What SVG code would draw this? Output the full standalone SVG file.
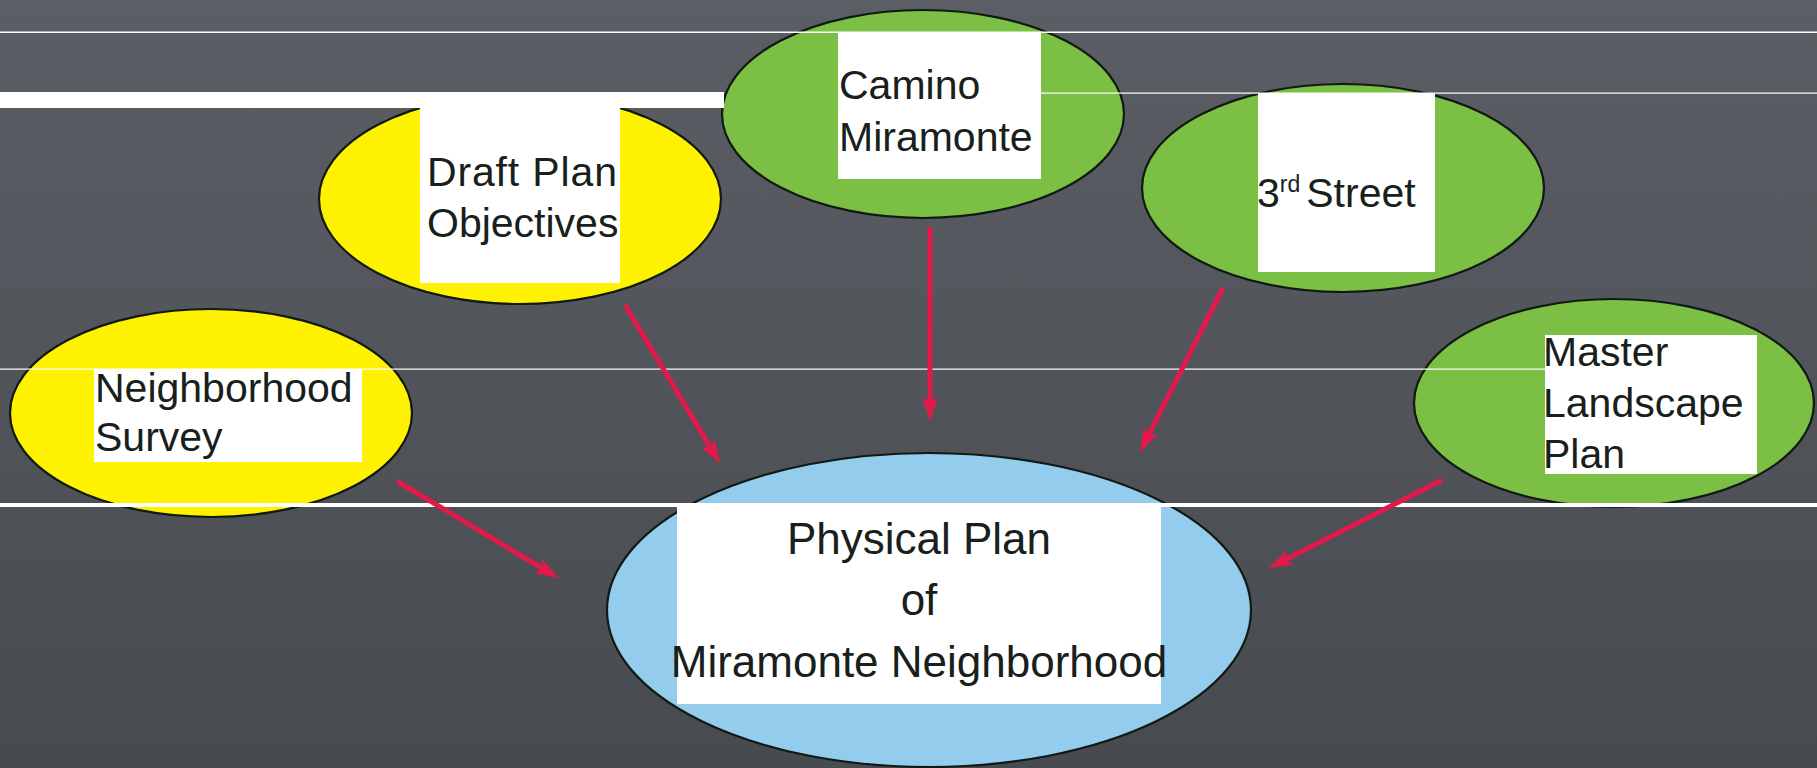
<svg xmlns="http://www.w3.org/2000/svg" width="1817" height="768" viewBox="0 0 1817 768">
  <defs>
    <linearGradient id="bg" x1="0" y1="0" x2="0" y2="1">
      <stop offset="0" stop-color="#5b5e64"/>
      <stop offset="1" stop-color="#474a4f"/>
    </linearGradient>
    <marker id="ah" markerUnits="userSpaceOnUse" markerWidth="26" markerHeight="20" refX="8" refY="9" orient="auto">
      <path d="M0,1 L24,9 L0,17 L5,9 Z" fill="#e3194b"/>
    </marker>
    <style>
      .node { stroke: #111a12; stroke-width: 2.2; }
      .yellow { fill: #fff200; }
      .green { fill: #7cbf45; }
      .blue { fill: #94ccee; }
      .box { fill: #ffffff; }
      .lbl { font-family: "Liberation Sans", Arial, sans-serif; font-size: 41px; fill: #18201b; }
      .big { font-size: 44px; }
      .conn { stroke: #e3194b; stroke-width: 5; fill: none; marker-end: url(#ah); }
      .wl { fill: #ffffff; }
    </style>
  </defs>
  <rect x="0" y="0" width="1817" height="768" fill="url(#bg)"/>

  <g id="node-draft">
    <ellipse class="node yellow" cx="520" cy="199" rx="201" ry="105"/>
    <rect class="box" x="420" y="108" width="200" height="175"/>
    <text class="lbl" x="427" y="186" textLength="190" lengthAdjust="spacing">Draft Plan</text>
    <text class="lbl" x="427" y="237">Objectives</text>
  </g>

  <g id="node-camino">
    <ellipse class="node green" cx="923" cy="114" rx="201" ry="104"/>
    <rect class="box" x="838" y="32" width="203" height="147"/>
    <text class="lbl" x="839" y="99">Camino</text>
    <text class="lbl" x="839" y="151">Miramonte</text>
  </g>

  <g id="node-3rd">
    <ellipse class="node green" cx="1343" cy="188" rx="201" ry="104"/>
    <rect class="box" x="1258" y="93" width="177" height="179"/>
    <text class="lbl" x="1257" y="207">3<tspan font-size="23" dy="-15">rd</tspan><tspan dy="15" dx="6">Street</tspan></text>
  </g>

  <g id="node-survey">
    <ellipse class="node yellow" cx="211" cy="413" rx="201" ry="104"/>
    <rect class="box" x="94" y="369" width="268" height="93"/>
    <text class="lbl" x="95" y="402">Neighborhood</text>
    <text class="lbl" x="95" y="451">Survey</text>
  </g>

  <g id="node-master">
    <ellipse class="node green" cx="1614" cy="403" rx="200" ry="104"/>
    <rect class="box" x="1545" y="335" width="212" height="139"/>
    <text class="lbl" x="1543" y="366">Master</text>
    <text class="lbl" x="1543" y="417">Landscape</text>
    <text class="lbl" x="1543" y="468">Plan</text>
  </g>

  <g id="node-physical">
    <ellipse class="node blue" cx="929" cy="610" rx="322" ry="157"/>
    <rect class="box" x="677" y="507" width="484" height="197"/>
    <text class="lbl big" x="919" y="554" text-anchor="middle">Physical Plan</text>
    <text class="lbl big" x="919" y="615" text-anchor="middle">of</text>
    <text class="lbl big" x="919" y="677" text-anchor="middle">Miramonte Neighborhood</text>
  </g>

  <g id="scan-lines">
    <rect class="wl" x="0" y="31.5" width="1817" height="1.5"/>
    <rect class="wl" x="0" y="92" width="724" height="16"/>
    <rect class="wl" x="1041" y="92.5" width="776" height="1.2"/>
    <rect class="wl" x="0" y="368.5" width="1545" height="1.2"/>
    <rect class="wl" x="0" y="503" width="1817" height="4"/>
  </g>

  <g id="connectors">
    <line class="conn" x1="397" y1="481" x2="545" y2="570"/>
    <line class="conn" x1="625" y1="305" x2="712" y2="450"/>
    <line class="conn" x1="930" y1="227" x2="930" y2="405"/>
    <line class="conn" x1="1223" y1="288" x2="1147" y2="438"/>
    <line class="conn" x1="1442" y1="480" x2="1283" y2="561"/>
  </g>
</svg>
